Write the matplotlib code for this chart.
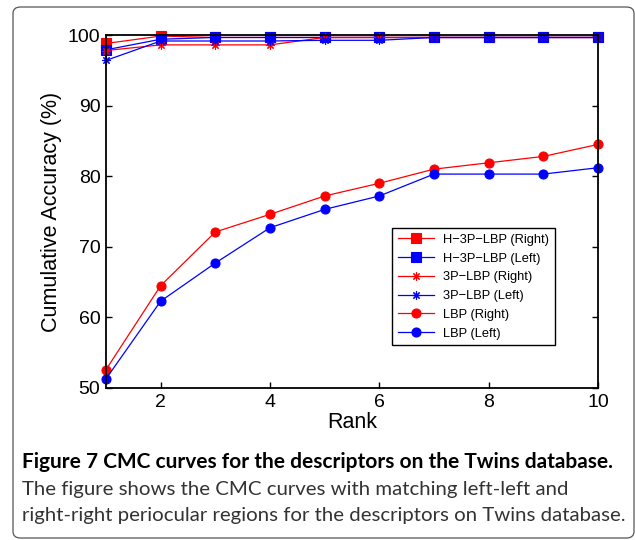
import numpy as np
import matplotlib
matplotlib.use("Agg")
import matplotlib.pyplot as plt
from matplotlib.patches import FancyBboxPatch

# data
rank = [1, 2, 3, 4, 5, 6, 7, 8, 9, 10]
h3p_right = [98.8, 99.85, 99.65, 99.65, 99.65, 99.65, 99.65, 99.65, 99.65, 99.65]
h3p_left = [97.9, 99.4, 99.65, 99.65, 99.65, 99.65, 99.65, 99.65, 99.65, 99.65]
p3_right = [97.8, 98.6, 98.6, 98.6, 99.65, 99.65, 99.65, 99.65, 99.65, 99.65]
p3_left = [96.4, 99.15, 99.15, 99.15, 99.25, 99.25, 99.65, 99.65, 99.65, 99.65]
lbp_right = [52.6, 64.5, 72.1, 74.6, 77.2, 79.0, 81.0, 81.9, 82.8, 84.5]
lbp_left = [51.3, 62.3, 67.7, 72.7, 75.3, 77.2, 80.3, 80.3, 80.3, 81.2]

labels = ["H\u22123P\u2212LBP (Right)", "H\u22123P\u2212LBP (Left)",
          "3P\u2212LBP (Right)", "3P\u2212LBP (Left)",
          "LBP (Right)", "LBP (Left)"]
xticks = [2, 4, 6, 8, 10]
yticks = [50, 60, 70, 80, 90, 100]

caption_title = "Figure 7 CMC curves for the descriptors on the Twins database."
caption_body = ["The figure shows the CMC curves with matching left-left and",
                "right-right periocular regions for the descriptors on Twins database."]

W, H = 635, 540
fig = plt.figure(figsize=(W / 100, H / 100), dpi=100)
fig.patch.set_facecolor("white")

def fx(px):
    return px / W

def fy(py):
    return 1 - py / H

# axes box in pixel coordinates of the reference
left, right, top, bottom = 106, 598, 35, 388
ax = fig.add_axes([fx(left), fy(bottom), fx(right - left), (bottom - top) / H])

red = "#ff0000"
blue = "#0000ff"
asterisk = (8, 2, 0)
series = [
    (h3p_right, red, "s", 6.5),
    (h3p_left, blue, "s", 6.5),
    (p3_right, red, asterisk, 6),
    (p3_left, blue, asterisk, 6),
    (lbp_right, red, "o", 6.5),
    (lbp_left, blue, "o", 6.5),
]
for (vals, c, m, s), lab in zip(series, labels):
    ax.plot(rank, vals, color=c, lw=0.9, marker=m, ms=s, mfc=c, mec=c,
            mew=0.8, label=lab, clip_on=False)

ax.set_xlim(1, 10)
ax.set_ylim(50, 100)
ax.set_xticks(xticks)
ax.set_yticks(yticks)
ax.tick_params(direction="in", top=True, right=True, length=4, width=1,
               labelsize=14, pad=4)
for sp in ax.spines.values():
    sp.set_linewidth(1.3)
for lab in ax.get_xticklabels() + ax.get_yticklabels():
    lab.set_family("Liberation Sans")

ax.set_xlabel("Rank", fontsize=15.5, family="Liberation Sans", labelpad=1)
ax.set_ylabel("Cumulative Accuracy (%)", fontsize=15.5, family="Liberation Sans",
              labelpad=4)

leg = ax.legend(loc="upper left", bbox_to_anchor=((392 - left) / (right - left),
                (bottom - 228) / (bottom - top)),
                prop={"family": "Liberation Sans", "size": 9.3},
                fancybox=False, edgecolor="black", framealpha=1,
                borderpad=0.45, labelspacing=0.52, handlelength=2.8,
                handletextpad=0.7, borderaxespad=0)
leg.get_frame().set_linewidth(1.0)

# caption
fig.text(fx(22), fy(462), caption_title, fontsize=15, fontweight="bold",
         family="Lato", va="center", ha="left", color="black")
for i, line in enumerate(caption_body):
    fig.text(fx(22), fy(490 + 25 * i), line, fontsize=14.7, family="Lato",
             va="center", ha="left", color="#333333")

# rounded panel border
border = FancyBboxPatch((fx(13), fy(538)), fx(634 - 13), (538 - 7) / H,
                        boxstyle="round,pad=0,rounding_size=0.012",
                        transform=fig.transFigure, fill=False,
                        edgecolor="#555555", lw=0.9)
fig.add_artist(border)

fig.savefig("out.png", dpi=100)
